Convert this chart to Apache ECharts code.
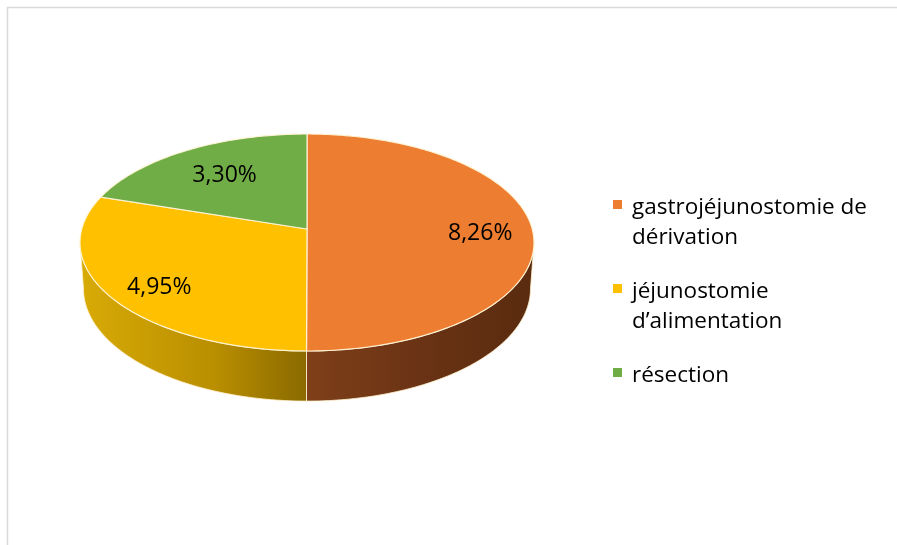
<!DOCTYPE html>
<html>
<head>
<meta charset="utf-8">
<script src="https://cdn.jsdelivr.net/npm/echarts@6/dist/echarts.min.js"></script>
<style>
  html, body { margin: 0; padding: 0; background: #fff; }
  #chart { width: 897px; height: 545px; }
</style>
</head>
<body>
<div id="chart"></div>
<script>
// Interventions palliatives : parts en pourcentage
const categories = ['gastrojéjunostomie de\ndérivation', 'jéjunostomie\nd’alimentation', 'résection'];
const values = [8.26, 4.95, 3.30];

// Colours of the top faces and the shaded rims
const topColors = ['#ED7D31', '#FFC000', '#70AD47'];
const sideStops = [
  [[0, '#7F3F19'], [0.55, '#683214'], [1, '#5A2B0F']],
  [[0, '#D8AB06'], [0.6, '#B98E00'], [1, '#8A6A00']],
  [[0, '#4F8030'], [1, '#3B6324']]
];

// Disc seen through a perspective camera, then fitted into a screen box
const cam = { tilt: 28 * Math.PI / 180, dist: 7.1 };
const box = { left: 80, right: 534, top: 134, bottom: 351, rim: 51 };
const labelR = 0.76;
const labelShift = [[2, 4], [-1, 8], [11, 7]];
const FONT = '"Open Sans", "DejaVu Sans", sans-serif';

const fmt = v => v.toFixed(2).replace('.', ',') + '%';

function raw(theta, r, h) {
  const ca = Math.cos(cam.tilt), sa = Math.sin(cam.tilt);
  const x = r * Math.sin(theta), z = r * Math.cos(theta), y = -h;
  const yc = y * ca + z * sa, zc = -y * sa + z * ca;
  const k = 1 / (cam.dist + zc);
  return [x * k, -yc * k];
}

// screen fit of the top face
const fit = (function () {
  let minX = Infinity, maxX = -Infinity, minY = Infinity, maxY = -Infinity;
  for (let d = 0; d < 3600; d++) {
    const p = raw(d / 1800 * Math.PI, 1, 0);
    minX = Math.min(minX, p[0]); maxX = Math.max(maxX, p[0]);
    minY = Math.min(minY, p[1]); maxY = Math.max(maxY, p[1]);
  }
  const sx = (box.right - box.left) / (maxX - minX);
  const sy = (box.bottom - box.top) / (maxY - minY);
  const e = 1e-4;
  const dRim = (raw(Math.PI, 1, e)[1] - raw(Math.PI, 1, 0)[1]) / e * sy;
  return { minX, minY, sx, sy, h: box.rim / dRim };
})();

function pt(theta, r, h) {
  const p = raw(theta, r, h);
  return [box.left + (p[0] - fit.minX) * fit.sx, box.top + (p[1] - fit.minY) * fit.sy];
}
function arc(a0, a1, h) {
  const pts = [];
  const n = Math.max(2, Math.ceil(Math.abs(a1 - a0) / (Math.PI / 180)));
  for (let k = 0; k <= n; k++) pts.push(pt(a0 + (a1 - a0) * k / n, 1, h));
  return pts;
}
// silhouette angle of the cylinder wall
const silhouette = Math.acos(-Math.cos(cam.tilt) / cam.dist);

function makeRender(i) {
  return function (params, api) {
    const v = api.value(0);
    const total = values.reduce((a, b) => a + b, 0);
    let start = 0;
    for (let k = 0; k < i; k++) start += values[k];
    const a0 = start / total * 2 * Math.PI;
    const a1 = (start + v) / total * 2 * Math.PI;
    const children = [];

    // visible rim
    const s0 = Math.max(a0, silhouette), s1 = Math.min(a1, 2 * Math.PI - silhouette);
    if (s1 > s0) {
      const pts = arc(s0, s1, 0).concat(arc(s1, s0, fit.h));
      children.push({
        type: 'polygon',
        shape: { points: pts },
        style: {
          fill: new echarts.graphic.LinearGradient(0, 0, 1, 0,
            sideStops[i].map(s => ({ offset: s[0], color: s[1] }))),
          stroke: 'rgba(255,240,205,0.85)',
          lineWidth: 1
        }
      });
    }

    // top face
    const topPts = [pt(0, 0, 0)].concat(arc(a0, a1, 0));
    children.push({
      type: 'polygon',
      shape: { points: topPts },
      style: { fill: topColors[i], stroke: 'rgba(255,244,214,0.95)', lineWidth: 1.2 }
    });

    // value label
    const mid = (a0 + a1) / 2;
    const lp = pt(mid, labelR, 0);
    children.push({
      type: 'text',
      z2: 10,
      style: {
        text: fmt(v), x: lp[0] + labelShift[i][0], y: lp[1] + labelShift[i][1],
        fill: '#000', font: '23px ' + FONT,
        align: 'center', verticalAlign: 'middle'
      }
    });
    return { type: 'group', children: children };
  };
}

// legend drawn beside the pie
const legendEls = [];
const lg = { x: 613, textX: 632, y0: 215, lineH: 29.5, gap: 25, box: 9, fontSize: 22.5 };
let yb = lg.y0;
categories.forEach((name, i) => {
  const lines = name.split('\n');
  legendEls.push({
    type: 'rect',
    shape: { x: lg.x, y: yb - 15, width: lg.box, height: lg.box },
    style: { fill: topColors[i] }
  });
  lines.forEach((ln, j) => {
    legendEls.push({
      type: 'text',
      style: {
        text: ln, x: lg.textX, y: yb + j * lg.lineH - 7,
        fill: '#000', font: lg.fontSize + 'px ' + FONT,
        align: 'left', verticalAlign: 'middle'
      }
    });
  });
  yb += lines.length * lg.lineH + lg.gap;
});

const chart = echarts.init(document.getElementById('chart'), null, { renderer: 'canvas' });
chart.setOption({
  backgroundColor: '#fff',
  animation: false,
  graphic: [
    {
      type: 'rect',
      shape: { x: 7.5, y: 7.5, width: 920, height: 580 },
      style: { fill: 'none', stroke: '#D9D9D9', lineWidth: 1.5 },
      silent: true
    }
  ].concat(legendEls),
  series: values.map((v, i) => ({
    type: 'custom',
    name: categories[i],
    coordinateSystem: 'none',
    renderItem: makeRender(i),
    data: [[v]],
    silent: true
  }))
});
</script>
</body>
</html>
